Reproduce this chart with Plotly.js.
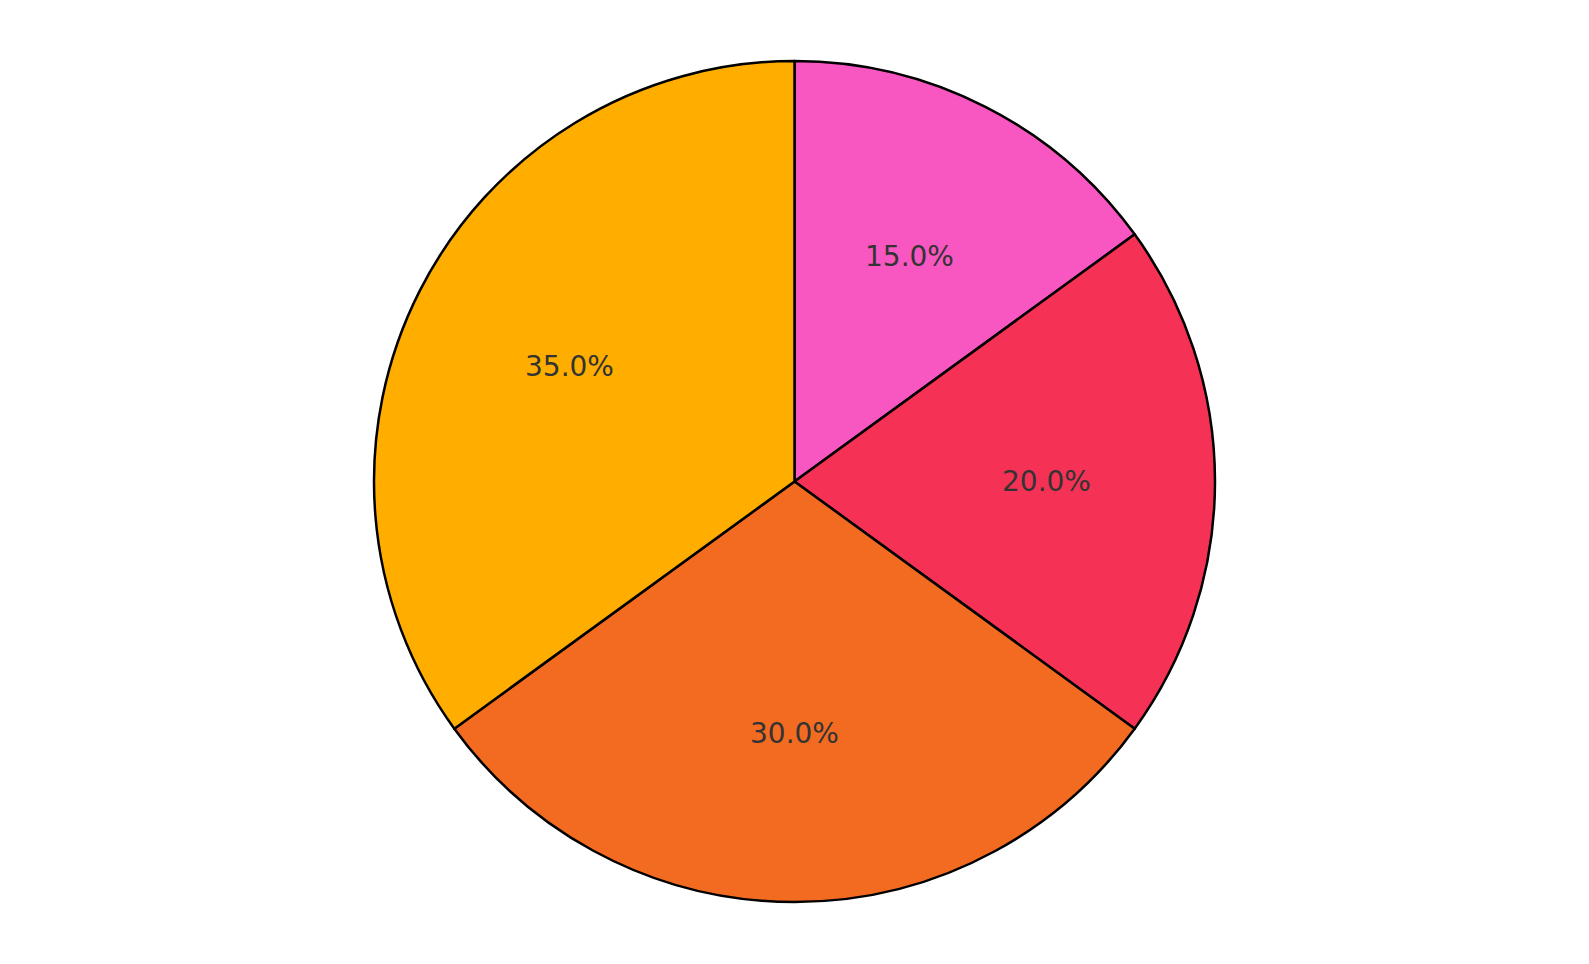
<!DOCTYPE html>
<html>
<head>
<meta charset="utf-8">
<script src="https://cdn.plot.ly/plotly-3.0.1.min.js"></script>
<style>
  html, body { margin: 0; padding: 0; background: #fff; }
  #chart { width: 1589px; height: 964px; }
</style>
</head>
<body>
<div id="chart"></div>
<script>
// slice data, clockwise from 12 o'clock
var labels = ['A', 'B', 'C', 'D'];
var values = [15, 20, 30, 35];
var colors = ['#F857C1', '#F53255', '#F26B21', '#FFAE00'];

var W = 1589, H = 964;
var margin = {l: 0, r: 0, t: 61, b: 62};
var plotW = W - margin.l - margin.r;
var plotH = H - margin.t - margin.b;
var R = Math.min(plotW, plotH) / 2;

// percent labels at 0.6 of the radius, like the original
var total = values.reduce(function(a, b){ return a + b; }, 0);
var anns = [];
var acc = 0;
for(var i = 0; i < values.length; i++){
  var mid = (acc + values[i] / 2) / total * 2 * Math.PI;
  acc += values[i];
  anns.push({
    xref: 'paper', yref: 'paper',
    x: 0.5 + 0.6 * R * Math.sin(mid) / plotW,
    y: 0.5 + 0.6 * R * Math.cos(mid) / plotH,
    text: (values[i] / total * 100).toFixed(1) + '%',
    showarrow: false,
    xanchor: 'center', yanchor: 'middle',
    font: {family: 'DejaVu Sans', size: 28, color: '#333333'}
  });
}

var data = [{
  type: 'pie',
  labels: labels,
  values: values,
  sort: false,
  direction: 'clockwise',
  rotation: 0,
  textinfo: 'none',
  hoverinfo: 'none',
  marker: {colors: colors, line: {color: '#000000', width: 2.5}}
}];

var layout = {
  width: W,
  height: H,
  showlegend: false,
  margin: margin,
  paper_bgcolor: '#ffffff',
  annotations: anns
};

Plotly.newPlot('chart', data, layout, {staticPlot: true});
</script>
</body>
</html>
